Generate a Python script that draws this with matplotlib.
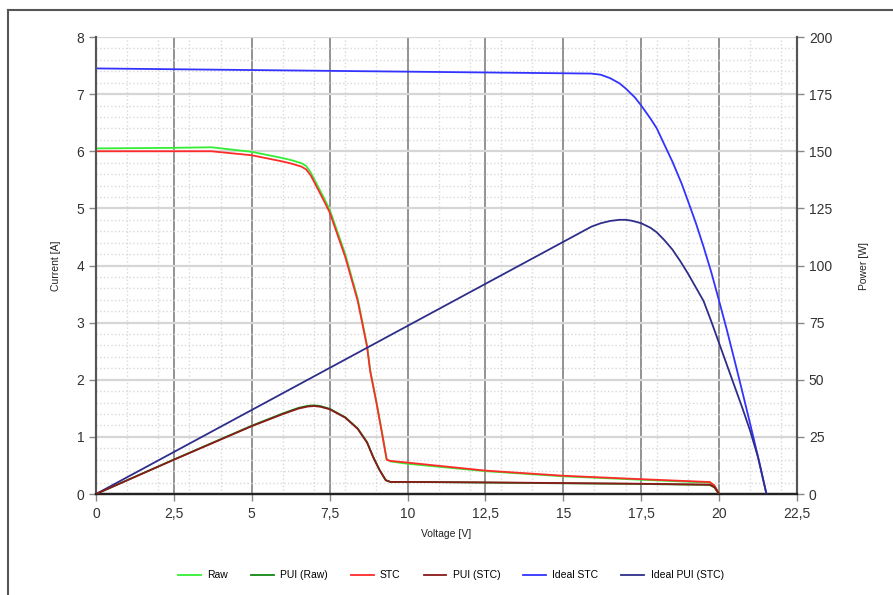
import matplotlib
matplotlib.use("Agg")
import matplotlib.pyplot as plt
from matplotlib.ticker import MultipleLocator, FuncFormatter
from matplotlib.lines import Line2D

plt.rcParams['font.family'] = ['Liberation Sans', 'DejaVu Sans']

# measured I-V curves (V, A)
v_iv = [0, 2.5, 3.7, 5.0, 6.0, 6.3, 6.6, 6.75, 6.9, 7.1, 7.3, 7.5, 8.0, 8.4, 8.7, 8.8,
        9.0, 9.2, 9.33, 9.45, 10, 12.5, 15, 17.5, 19.7, 19.85, 20.0]
i_raw = [6.05, 6.06, 6.07, 5.99, 5.88, 5.84, 5.79, 5.74, 5.62, 5.41, 5.2, 4.98, 4.2,
         3.42, 2.6, 2.17, 1.62, 1.02, 0.61, 0.57, 0.53, 0.40, 0.31, 0.25, 0.2, 0.14, 0.0]
i_stc = [6.0, 6.0, 6.0, 5.93, 5.82, 5.78, 5.73, 5.68, 5.57, 5.36, 5.15, 4.93, 4.15,
         3.38, 2.58, 2.15, 1.6, 1.0, 0.6, 0.58, 0.55, 0.41, 0.32, 0.26, 0.21, 0.15, 0.0]

# measured power curves (V, W)
v_p = [0, 2.5, 5.0, 6.0, 6.5, 6.8, 7.0, 7.2, 7.5, 8.0, 8.4, 8.7, 8.9, 9.1, 9.3, 9.45,
       10, 12.5, 15, 17.5, 19.7, 19.85, 20.0]
p_raw = [0, 15.1, 29.9, 35.3, 37.7, 38.6, 38.8, 38.5, 37.3, 33.6, 28.7, 22.7, 16.2, 10.6,
         6.1, 5.3, 5.3, 5.0, 4.7, 4.4, 4.0, 2.9, 0]
p_stc = [0, 15.0, 29.7, 35.0, 37.4, 38.3, 38.5, 38.2, 37.1, 33.4, 28.5, 22.5, 16.0, 10.5,
         6.0, 5.3, 5.3, 5.1, 4.8, 4.5, 4.1, 3.0, 0]

# ideal curves
v_id = [0, 15.9, 16.2, 16.5, 16.8, 17.0, 17.3, 17.5, 17.8, 18.0, 18.3, 18.5, 18.8, 19.0,
        19.25, 19.5, 19.75, 20.0, 20.25, 20.5, 20.75, 21.0, 21.25, 21.52]
i_ideal = [7.45, 7.36, 7.34, 7.28, 7.19, 7.1, 6.94, 6.8, 6.57, 6.4, 6.05, 5.82, 5.43, 5.13,
           4.75, 4.33, 3.88, 3.38, 2.87, 2.33, 1.78, 1.22, 0.65, 0.0]
v_idp = [0, 15.9, 16.2, 16.5, 16.8, 17.0, 17.2, 17.5, 17.8, 18.0, 18.25, 18.5, 18.75,
         19.0, 19.25, 19.5, 19.75, 20.0, 20.25, 20.5, 20.75, 21.0, 21.25, 21.52]
p_ideal = [0, 117, 118.5, 119.5, 120, 120, 119.6, 118.5, 116.5, 114.5, 111, 107, 102,
           96.5, 90.5, 84.5, 75.5, 66, 56.5, 47, 37.5, 27.5, 16, 0]

labels = ['Raw', 'PUI (Raw)', 'STC', 'PUI (STC)', 'Ideal STC', 'Ideal PUI (STC)']
colors = ['#33ee33', '#118811', '#ff2a2a', '#8b1a1a', '#3333ff', '#2e2e8a']

fig = plt.figure(figsize=(8.93, 5.95), dpi=100)
ax = fig.add_axes([0.1075, 0.1697, 0.785, 0.7681])
ax2 = ax.twinx()

ax.set_xlim(0, 22.5)
ax.set_ylim(0, 8)
ax2.set_ylim(0, 200)

ax.xaxis.set_major_locator(MultipleLocator(2.5))
ax.xaxis.set_minor_locator(MultipleLocator(1))
ax.yaxis.set_major_locator(MultipleLocator(1))
ax.yaxis.set_minor_locator(MultipleLocator(0.2))
ax2.yaxis.set_major_locator(MultipleLocator(25))
ax.xaxis.set_major_formatter(FuncFormatter(lambda x, p: ('%g' % x).replace('.', ',')))

ax.grid(which='minor', axis='both', color='#d9d9d9', linestyle=':', linewidth=1.0)
ax.grid(which='major', axis='y', color='#d6d6d6', linestyle='-', linewidth=1.6)
ax.grid(which='major', axis='x', color='#8a8a8a', linestyle='-', linewidth=1.3)
ax.set_axisbelow(True)

lw = 1.3
ax.plot(v_iv, i_raw, color=colors[0], lw=lw, zorder=3)
ax.plot(v_iv, i_stc, color=colors[2], lw=lw, zorder=4)
ax.plot(v_id, i_ideal, color=colors[4], lw=lw, zorder=3)
ax2.plot(v_p, p_raw, color=colors[1], lw=lw, zorder=3)
ax2.plot(v_p, p_stc, color=colors[3], lw=lw, zorder=4)
ax2.plot(v_idp, p_ideal, color=colors[5], lw=lw, zorder=3)

for a in (ax, ax2):
    a.spines['top'].set_visible(False)
    a.spines['left'].set_color('#555555')
    a.spines['right'].set_color('#555555')
    a.spines['left'].set_linewidth(1.5)
    a.spines['right'].set_linewidth(1.5)
    a.spines['bottom'].set_color('#222222')
    a.spines['bottom'].set_linewidth(1.6)
    a.tick_params(which='major', length=5, width=1, color='#888888',
                  labelsize=10, labelcolor='#333333')
    a.tick_params(which='minor', length=0)
ax.tick_params(axis='x', pad=4)

ax.set_xlabel('Voltage [V]', fontsize=7.5, color='#222222', labelpad=6)
ax.set_ylabel('Current [A]', fontsize=7.5, color='#222222', labelpad=11)
ax2.set_ylabel('Power [W]', fontsize=7.5, color='#222222', rotation=90, labelpad=19)

handles = [Line2D([0], [0], color=c, lw=1.3) for c in colors]
fig.legend(handles, labels, loc='center', bbox_to_anchor=(0.505, 0.033), ncol=6,
           frameon=False, fontsize=7.5, handlelength=2.2, columnspacing=2.2,
           handletextpad=0.6)

# outer frame (left and top edges)
fig.add_artist(Line2D([8 / 893, 8 / 893], [0, 1 - 10 / 595], color='#555555', lw=1.5))
fig.add_artist(Line2D([8 / 893, 1], [1 - 10 / 595, 1 - 10 / 595], color='#555555', lw=1.5))

fig.savefig('out.png', dpi=100)
